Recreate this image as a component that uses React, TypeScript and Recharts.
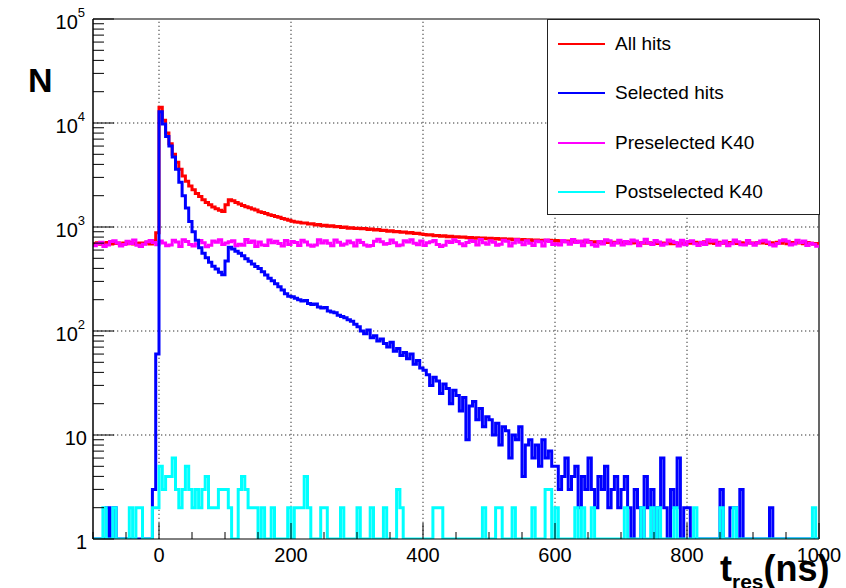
import React from 'react';
import { LineChart, Line, XAxis, YAxis, ReferenceLine, Legend } from 'recharts';

const FONT = "'Liberation Sans', Arial, Helvetica, sans-serif";

// Histogram binning: 5 ns bins from -100 ns to 1000 ns (220 bins)
const T_MIN = -100;
const T_MAX = 1000;
const BIN_WIDTH = 5;

// Counts per bin (0 = empty bin, drawn on the axis floor like ROOT does)
const allHits = [
  690, 705, 682, 698, 711, 687, 694, 703, 679, 700, 692, 708, 685, 697, 702, 690, 713, 688, 735, 880,
  14200, 10600, 8000, 6300, 5000, 4200, 3600, 3100, 2750, 2480, 2280, 2100, 1960, 1830, 1720, 1640, 1560, 1500, 1450, 1410,
  1640, 1830, 1790, 1720, 1660, 1610, 1570, 1535, 1490, 1455, 1400, 1375, 1345, 1310, 1290, 1260, 1240, 1210, 1190, 1160,
  1135, 1120, 1112, 1090, 1095, 1068, 1072, 1046, 1055, 1030, 1041, 1018, 1026, 1004, 1012, 990, 998, 972, 985, 968,
  975, 960, 968, 948, 955, 935, 944, 926, 930, 912, 920, 898, 906, 890, 895, 876, 884, 866, 872, 858,
  848, 836, 842, 825, 830, 816, 822, 808, 813, 800, 806, 795, 801, 788, 793, 781, 790, 776, 784, 772,
  780, 768, 775, 762, 770, 758, 766, 752, 762, 749, 757, 746, 754, 742, 750, 740, 747, 736, 745, 733,
  742, 730, 738, 726, 735, 722, 731, 720, 728, 716, 725, 713, 722, 711, 719, 708, 716, 706, 714, 704,
  712, 702, 710, 700, 708, 698, 706, 697, 705, 695, 703, 694, 702, 693, 700, 692, 699, 691, 698, 690,
  705, 698, 712, 695, 708, 720, 700, 710, 693, 715, 702, 696, 711, 699, 719, 694, 707, 692, 713, 701,
  693, 709, 702, 717, 695, 706, 688, 712, 699, 721, 692, 708, 697, 714, 703, 690, 709, 698, 686, 695,
];

const selectedHits = [
  0, 0, 0, 0, 2, 0, 2, 0, 0, 0, 0, 0, 0, 0, 0, 0, 0, 0, 3, 60,
  12800, 9800, 7400, 6000, 4700, 3600, 2700, 2000, 1520, 1130, 900, 745, 630, 560, 505, 458, 420, 395, 368, 348,
  470, 640, 615, 585, 560, 528, 495, 468, 442, 418, 398, 372, 345, 322, 305, 284, 266, 248, 228, 216,
  214, 206, 200, 194, 196, 184, 180, 182, 170, 166, 168, 156, 152, 150, 142, 138, 134, 128, 124, 116,
  110, 100, 94, 102, 86, 90, 80, 84, 76, 70, 78, 64, 68, 58, 62, 54, 60, 48, 52, 44,
  42, 38, 30, 36, 33, 25, 31, 28, 20, 27, 24, 17, 23, 9, 19, 21, 14, 18, 12, 15,
  14, 10, 13, 8, 12, 11, 6, 10, 9, 12, 4, 8, 9, 6, 8, 5, 9, 6, 7, 5,
  5, 3, 4, 6, 3, 4, 5, 2, 4, 3, 6, 3, 2, 4, 3, 5, 2, 3, 4, 2,
  3, 4, 2, 0, 3, 2, 0, 4, 2, 3, 0, 2, 6, 2, 0, 3, 2, 6, 0, 2,
  2, 0, 0, 0, 0, 0, 0, 0, 0, 0, 3, 0, 0, 2, 2, 0, 3, 0, 0, 0,
  0, 0, 0, 0, 0, 2, 0, 0, 0, 0, 0, 0, 0, 0, 0, 0, 0, 0, 0, 0,
];

const preselectedK40 = [
  662, 690, 712, 648, 671, 725, 738, 702, 655, 680, 731, 694, 748, 668, 651, 683, 720, 742, 709, 674,
  733, 700, 662, 671, 745, 718, 650, 756, 726, 680, 658, 690, 741, 704, 646, 667, 734, 712, 752, 678,
  700, 722, 737, 660, 684, 669, 760, 711, 735, 649, 716, 672, 663, 748, 705, 729, 694, 655, 740, 677,
  726, 708, 664, 746, 719, 673, 652, 670, 755, 703, 738, 698, 661, 750, 714, 668, 688, 733, 707, 655,
  744, 710, 672, 652, 664, 728, 762, 723, 681, 693, 749, 706, 659, 670, 737, 716, 754, 699, 676, 732,
  663, 704, 721, 743, 678, 650, 669, 730, 711, 752, 727, 690, 660, 709, 741, 724, 672, 758, 706, 684,
  736, 715, 668, 683, 747, 729, 655, 702, 754, 712, 675, 739, 698, 664, 733, 721, 657, 750, 726, 679,
  690, 670, 741, 718, 681, 757, 709, 731, 661, 748, 714, 674, 653, 727, 688, 752, 737, 667, 702, 745,
  672, 724, 689, 751, 733, 660, 706, 762, 701, 679, 740, 719, 666, 685, 749, 730, 708, 656, 744, 676,
  727, 739, 691, 663, 712, 680, 754, 731, 746, 667, 703, 735, 659, 690, 751, 722, 675, 670, 741, 699,
  668, 704, 733, 747, 719, 674, 657, 693, 738, 756, 729, 671, 686, 745, 708, 732, 665, 697, 684, 652,
];

const postselectedK40 = [
  0, 0, 0, 2, 0, 0, 2, 0, 0, 0, 0, 2, 0, 2, 2, 0, 0, 0, 2, 2,
  5, 3, 4, 4, 6, 3, 2, 3, 5, 3, 2, 3, 2, 3, 4, 2, 2, 2, 3, 3,
  3, 2, 0, 0, 3, 4, 3, 2, 2, 2, 0, 2, 0, 0, 2, 0, 0, 0, 0, 2,
  0, 2, 2, 2, 4, 2, 0, 0, 0, 2, 2, 0, 0, 0, 0, 2, 0, 0, 0, 0,
  2, 0, 0, 0, 2, 0, 0, 0, 2, 0, 0, 0, 3, 2, 0, 0, 0, 0, 0, 0,
  0, 0, 0, 2, 2, 2, 0, 0, 0, 0, 0, 0, 0, 0, 0, 0, 0, 0, 2, 0,
  0, 0, 2, 2, 0, 0, 0, 2, 0, 0, 0, 0, 0, 2, 0, 0, 0, 3, 3, 0,
  2, 0, 0, 0, 0, 0, 2, 0, 2, 0, 0, 2, 0, 0, 0, 0, 0, 0, 0, 0,
  0, 2, 0, 0, 0, 0, 2, 0, 0, 2, 0, 2, 0, 0, 0, 0, 2, 0, 0, 0,
  0, 0, 2, 0, 0, 0, 0, 0, 0, 0, 2, 0, 0, 0, 2, 0, 0, 0, 0, 0,
  0, 0, 0, 0, 0, 0, 0, 0, 0, 0, 0, 0, 0, 0, 0, 0, 0, 0, 2, 0,
];

const seriesInfo = [
  { key: 'all', label: 'All hits', color: '#ff0000' },
  { key: 'sel', label: 'Selected hits', color: '#0000ff' },
  { key: 'pre', label: 'Preselected K40', color: '#ff00ff' },
  { key: 'post', label: 'Postselected K40', color: '#00ffff' },
];

const xTicks = [-100, -50, 0, 50, 100, 150, 200, 250, 300, 350, 400, 450, 500, 550, 600, 650, 700, 750, 800, 850, 900, 950, 1000];
const xLabels = [0, 200, 400, 600, 800, 1000];
const xGrid = [0, 200, 400, 600, 800];

const yTicks = [
  1, 2, 3, 4, 5, 6, 7, 8, 9,
  10, 20, 30, 40, 50, 60, 70, 80, 90,
  100, 200, 300, 400, 500, 600, 700, 800, 900,
  1000, 2000, 3000, 4000, 5000, 6000, 7000, 8000, 9000,
  10000, 20000, 30000, 40000, 50000, 60000, 70000, 80000, 90000,
  100000,
];
const yMajor = [1, 10, 100, 1000, 10000, 100000];
const yGrid = [10, 100, 1000, 10000];

// Build the table the chart needs (empty bins sit on the log-axis floor)
const floor = (v: number) => (v < 1 ? 1 : v);
const rows: any[] = allHits.map((_, i) => ({
  t: T_MIN + i * BIN_WIDTH,
  all: floor(allHits[i]),
  sel: floor(selectedHits[i]),
  pre: floor(preselectedK40[i]),
  post: floor(postselectedK40[i]),
}));
const last = rows[rows.length - 1];
rows.push({ ...last, t: T_MAX });

const YTick = (props: any) => {
  const { x, y, payload } = props;
  const v = payload.value;
  const major = yMajor.includes(v);
  const len = major ? 21 : 11;
  const exp = Math.round(Math.log10(v));
  return (
    <g>
      <line x1={x} x2={x + len} y1={y} y2={y} stroke="#000" strokeWidth={1} />
      {major && (
        exp <= 1 ? (
          <text x={x - 6} y={y + 10} textAnchor="end" fontSize={20} fontFamily={FONT} fill="#000">{String(v)}</text>
        ) : (
          <text x={x - 8} y={y + 10} textAnchor="end" fontSize={20} fontFamily={FONT} fill="#000">
            10<tspan fontSize={13} dy={-12}>{String(exp)}</tspan>
          </text>
        )
      )}
    </g>
  );
};

const XTick = (props: any) => {
  const { x, y, payload } = props;
  const v = payload.value;
  const major = v % 200 === 0;
  const len = major ? 16 : 7;
  return (
    <g>
      <line x1={x} x2={x} y1={y} y2={y - len} stroke="#000" strokeWidth={1} />
      {xLabels.includes(v) && (
        <text x={x} y={y + 23} textAnchor="middle" fontSize={20} fontFamily={FONT} fill="#000">{String(v)}</text>
      )}
    </g>
  );
};

const LegendBox = () => (
  <div
    style={{
      position: 'relative',
      width: 273,
      height: 196,
      boxSizing: 'border-box',
      border: '1px solid #222',
      background: '#fff',
      fontFamily: FONT,
    }}
  >
    {seriesInfo.map((s, i) => (
      <div key={s.key} style={{ position: 'absolute', left: 0, top: 12 + i * 49.3, height: 24, width: '100%' }}>
        <div style={{ position: 'absolute', left: 10, top: 11, width: 47, height: 2, background: s.color }} />
        <div style={{ position: 'absolute', left: 67, top: 0, lineHeight: '24px', fontSize: 19, color: '#000', whiteSpace: 'nowrap' }}>
          {s.label}
        </div>
      </div>
    ))}
  </div>
);

export default function App() {
  return (
    <div style={{ position: 'absolute', left: 0, top: 0, width: 846, height: 588, background: '#fff' }}>
      <LineChart width={846} height={588} data={rows} margin={{ top: 19, right: 27, bottom: 0, left: 0 }}>
        <XAxis
          dataKey="t"
          type="number"
          domain={[T_MIN, T_MAX]}
          ticks={xTicks}
          interval={0}
          allowDataOverflow
          height={49}
          tickSize={0}
          tickMargin={0}
          tickLine={false}
          axisLine={{ stroke: '#000', strokeWidth: 1 }}
          tick={<XTick />}
        />
        <YAxis
          scale="log"
          domain={[1, 100000]}
          ticks={yTicks}
          interval={0}
          allowDataOverflow
          width={93}
          tickSize={0}
          tickMargin={0}
          tickLine={false}
          axisLine={{ stroke: '#000', strokeWidth: 1.5 }}
          tick={<YTick />}
        />
        {xGrid.map((g) => (
          <ReferenceLine key={'gx' + g} x={g} stroke="#333" strokeWidth={1} strokeDasharray="1.3 2.7" />
        ))}
        {yGrid.map((g) => (
          <ReferenceLine key={'gy' + g} y={g} stroke="#333" strokeWidth={1} strokeDasharray="1.3 2.7" />
        ))}
        <ReferenceLine x={T_MAX} stroke="#000" strokeWidth={1.2} />
        <ReferenceLine y={100000} stroke="#000" strokeWidth={1.2} />
        <Line dataKey="all" type="stepAfter" stroke="#ff0000" strokeWidth={3} dot={false} isAnimationActive={false} name="All hits" />
        <Line dataKey="pre" type="stepAfter" stroke="#ff00ff" strokeWidth={3} dot={false} isAnimationActive={false} name="Preselected K40" />
        <Line dataKey="sel" type="stepAfter" stroke="#0000ff" strokeWidth={3} dot={false} isAnimationActive={false} name="Selected hits" />
        <Line dataKey="post" type="stepAfter" stroke="#00ffff" strokeWidth={3} dot={false} isAnimationActive={false} name="Postselected K40" />
        <Legend
          layout="horizontal"
          verticalAlign="middle"
          align="center"
          content={() => <LegendBox />}
          wrapperStyle={{ left: 547, top: 19, width: 273, height: 196 }}
        />
        <text x={28} y={92} fontSize={34} fontWeight="bold" fontFamily={FONT} fill="#000">N</text>
        <text x={720} y={581} fontSize={36} fontWeight="bold" fontFamily={FONT} fill="#000">
          t<tspan fontSize={21} dy={8}>res</tspan><tspan fontSize={36} dy={-8}>(ns)</tspan>
        </text>
      </LineChart>
    </div>
  );
}
